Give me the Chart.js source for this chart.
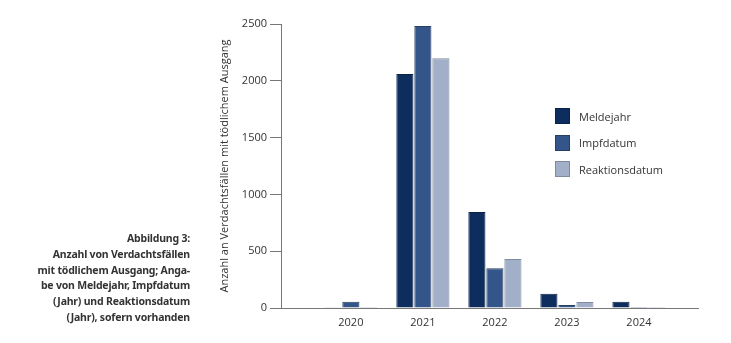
<!DOCTYPE html>
<html lang="de">
<head>
<meta charset="utf-8">
<script src="https://cdn.jsdelivr.net/npm/chart.js@4/dist/chart.umd.min.js"></script>
<style>
    html, body { margin: 0; padding: 0; background: #fff; }
    #wrap { position: relative; width: 731px; height: 343px; }
    #caption {
        position: absolute; right: 541px; top: 231px; width: 200px;
        text-align: right; font: bold 10.5px/15.8px "Noto Sans", sans-serif;
        color: #333; letter-spacing: -0.2px;
    }
    #legend { position: absolute; left: 555px; top: 103px; font: 11px "Open Sans", sans-serif; color: #333; }
    #legend div { display: flex; align-items: center; height: 26.5px; }
    #legend span.box { width: 13px; height: 14px; margin-right: 9px; border: 1px solid; }
</style>
</head>
<body>
<div id="wrap">
    <canvas id="chart" width="731" height="343"></canvas>
    <div id="caption">Abbildung 3:<br>Anzahl von Verdachtsfällen<br>mit tödlichem Ausgang; Anga-<br>be von Meldejahr, Impfdatum<br>(Jahr) und Reaktionsdatum<br>(Jahr), sofern vorhanden</div>
    <div id="legend"></div>
</div>
<script>
// Jahre und Fallzahlen je Zuordnung
const years = [2020, 2021, 2022, 2023, 2024];
const meldejahr = [2, 2060, 845, 126, 55];
const impfdatum = [55, 2482, 349, 26, 1];
const reaktionsdatum = [9, 2198, 431, 53, 9];
const yTicks = [0, 500, 1000, 1500, 2000, 2500];

const series = [
    { label: 'Meldejahr', data: meldejahr, color: '#0d2d5e', border: '#0a2248' },
    { label: 'Impfdatum', data: impfdatum, color: '#34558a', border: '#283f62' },
    { label: 'Reaktionsdatum', data: reaktionsdatum, color: '#a2afc9', border: '#7f8a9e' }
];

const ctx = document.getElementById('chart').getContext('2d');
const chart = new Chart(ctx, {
    type: 'bar',
    data: {
        datasets: series.map(s => ({
            label: s.label,
            data: years.map((y, i) => ({ x: y, y: s.data[i] })),
            backgroundColor: s.color,
            borderColor: s.border,
            borderWidth: 1,
            categoryPercentage: 0.75,
            barPercentage: 0.95
        }))
    },
    options: {
        responsive: false,
        animation: false,
        layout: { padding: { left: 214, right: 33, top: 24, bottom: 15 } },
        plugins: { legend: { display: false }, tooltip: { enabled: false } },
        scales: {
            x: {
                type: 'linear',
                offset: false,
                min: 2019.03,
                max: 2024.82,
                afterBuildTicks: s => { s.ticks = years.map(v => ({ value: v })); },
                afterFit: s => { s.height = 20; },
                grid: { display: false },
                border: { display: true, color: '#777', width: 1 },
                ticks: {
                    padding: 0,
                    color: '#333',
                    font: { family: 'Open Sans', size: 11 },
                    callback: v => String(v)
                }
            },
            y: {
                min: 0,
                max: 2500,
                afterBuildTicks: s => { s.ticks = yTicks.map(v => ({ value: v })); },
                afterFit: s => { s.width = 67; },
                grid: { drawOnChartArea: false, drawTicks: true, tickLength: 11, color: '#777' },
                border: { display: true, color: '#777', width: 1 },
                ticks: {
                    padding: 3,
                    color: '#333',
                    font: { family: 'Open Sans', size: 11 },
                    callback: v => String(v)
                },
                title: {
                    display: true,
                    text: 'Anzahl an Verdachtsfällen mit tödlichem Ausgang',
                    color: '#333',
                    padding: { top: 4, bottom: 0 },
                    font: { family: 'Open Sans', size: 11 }
                }
            }
        }
    }
});

// Legende neben den Balken
const legend = document.getElementById('legend');
series.forEach(s => {
    const row = document.createElement('div');
    row.innerHTML = `<span class="box" style="background:${s.color};border-color:${s.border}"></span>${s.label}`;
    legend.appendChild(row);
});
</script>
</body>
</html>
